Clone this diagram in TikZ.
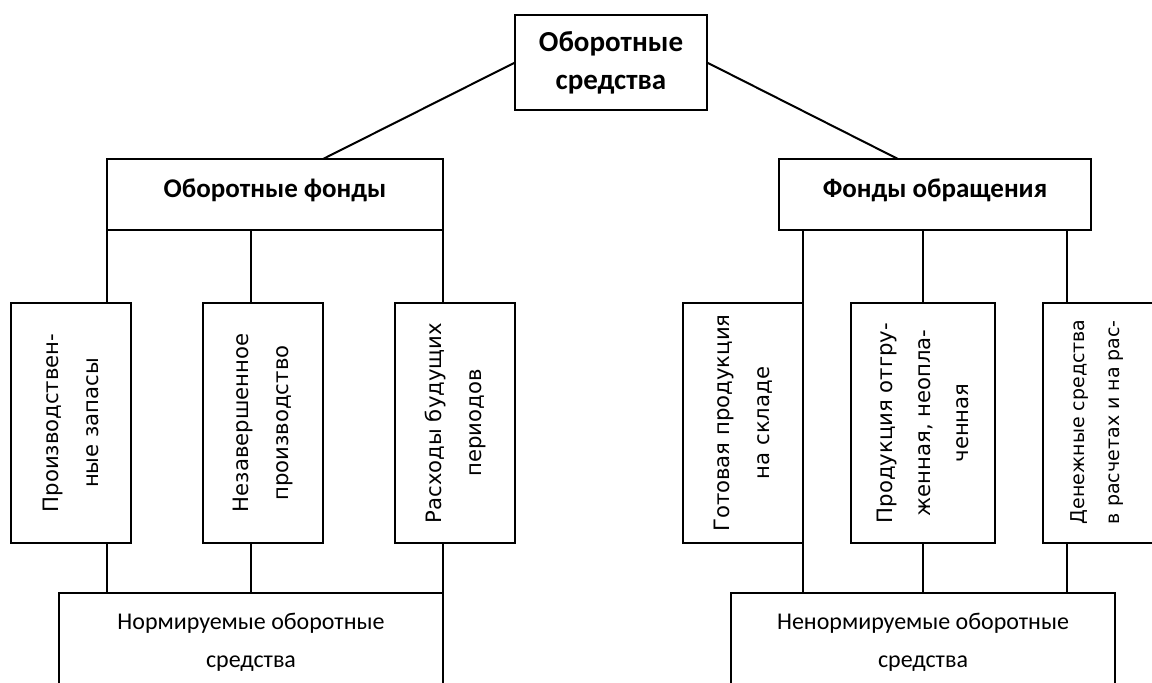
\documentclass[tikz,border=0pt]{standalone}
\usepackage{fontspec}
\setmainfont{Carlito}
\newfontfamily\vfont{DejaVu Sans}
\usetikzlibrary{calc}
\begin{document}
\begin{tikzpicture}[x=1pt,y=-1pt,line width=2pt,
  box/.style={draw,line width=2pt,inner sep=0pt,outer sep=0pt},
  htext/.style={align=center,inner sep=0pt,font=\fontsize{24}{38}\selectfont},
  btext/.style={align=center,inner sep=0pt,font=\bfseries\fontsize{27}{38}\selectfont},
  vtext/.style={rotate=90,align=center,inner sep=0pt,font=\vfont\fontsize{21.2}{40}\selectfont},
  link/.style={line width=2pt}]
\useasboundingbox (0,0) rectangle (1152,683);
\clip (0,0) rectangle (1152,683);
% top
\node[box,minimum width=192,minimum height=95] (top) at (611,62.5) {};
\node[btext,font=\bfseries\fontsize{29}{38}\selectfont] (toptxt) at (611,63) {Оборотные\\средства};
% headers
\node[box,minimum width=336,minimum height=71] (of) at (275,194.5) {};
\node[btext] (oftxt) at (275,190) {Оборотные фонды};
\node[box,minimum width=312,minimum height=71] (fo) at (935,194.5) {};
\node[btext] (fotxt) at (935,190) {Фонды обращения};
% vertical boxes
\node[box,minimum width=120,minimum height=240] (b1) at (71,423) {};
\node[vtext] (t1) at (b1) {Производствен-\\ные запасы};
\node[box,minimum width=120,minimum height=240] (b2) at (263,423) {};
\node[vtext] (t2) at (b2) {Незавершенное\\производство};
\node[box,minimum width=120,minimum height=240] (b3) at (455,423) {};
\node[vtext] (t3) at (b3) {Расходы будущих\\периодов};
\node[box,minimum width=120,minimum height=240] (b4) at (743,423) {};
\node[vtext] (t4) at (b4) {Готовая продукция\\на складе};
\node[box,minimum width=144,minimum height=240] (b5) at (923,423) {};
\node[vtext,font=\vfont\fontsize{21.2}{38}\selectfont] (t5) at (b5) {Продукция отгру-\\женная, неопла-\\ченная};
\node[box,minimum width=127,minimum height=240] (b6) at (1106.5,423) {};
\node[vtext,align=left,anchor=west,font=\vfont\fontsize{19}{35}\selectfont] (t6) at (1097,525) {Денежные средства\\в расчетах и на рас-};
% bottom boxes
\node[box,minimum width=384,minimum height=127] (nb) at (251,656.5) {};
\node[htext] (nbtxt) at (251,642) {Нормируемые оборотные\\средства};
\node[box,minimum width=384,minimum height=127] (nn) at (923,656.5) {};
\node[htext] (nntxt) at (923,642) {Ненормируемые оборотные\\средства};
% connectors
\draw[link] (top.west) -- ($(of.north)+(48,0)$);
\draw[link] (top.east) -- ($(fo.north)+(-37,0)$);
\draw[link] (of.south west) -- (of.south west |- b1.north);
\draw[link] (of.south west |- b1.south) -- (of.south west |- nb.north);
\draw[link] (nb.north |- of.south) -- (nb.north |- b2.north);
\draw[link] (nb.north |- b2.south) -- (nb.north);
\draw[link] (of.south east) -- (of.south east |- b3.north);
\draw[link] (of.south east |- b3.south) -- (nb.north east);
\draw[link] (b4.north east |- fo.south) -- (b4.north east);
\draw[link] (b4.south east) -- (b4.south east |- nn.north);
\draw[link] (b5.north |- fo.south) -- (b5.north);
\draw[link] (b5.south) -- (nn.north);
\coordinate (x6) at ($(b6.north west)+(24,0)$);
\draw[link] (x6 |- fo.south) -- (x6);
\draw[link] (x6 |- b6.south) -- (x6 |- nn.north);
\end{tikzpicture}
\end{document}
